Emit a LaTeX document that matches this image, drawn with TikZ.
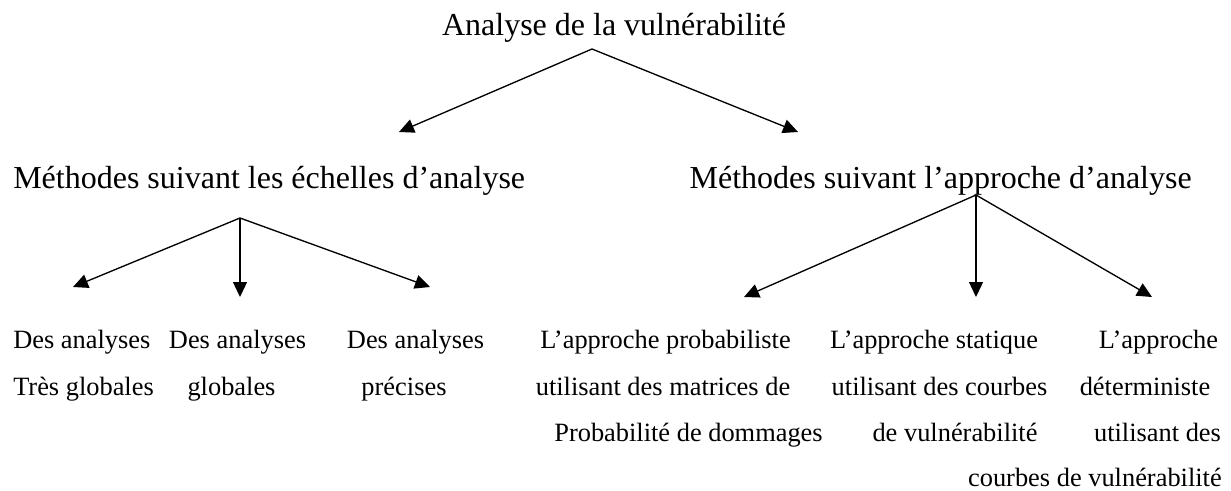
\documentclass[tikz,border=0pt]{standalone}
\usepackage{fontspec}
\setmainfont{Liberation Serif}
\usetikzlibrary{arrows.meta}
\begin{document}
\begin{tikzpicture}[x=0.75pt,y=-0.75pt,
  big/.style={font=\fontsize{24}{28}\selectfont, inner sep=0pt, anchor=base},
  small/.style={font=\fontsize{19.8}{24}\selectfont, inner sep=0pt, anchor=base},
  conn/.style={line width=1pt, -{Triangle[length=11.25pt,width=10.5pt]}}]
\useasboundingbox (0,0) rectangle (1231,490);
% level 0
\node[big] (root) at (614,35) {Analyse de la vulnérabilité};
% level 1
\node[big, anchor=base west] (echelles) at (13,188) {Méthodes suivant les échelles d’analyse};
\node[big, anchor=base east] (approche) at (1192,188) {Méthodes suivant l’approche d’analyse};
% level 2, left group
\node[small, anchor=base west] (c1a) at (13,348) {Des analyses};
\node[small, anchor=base west] (c1b) at (13,395) {Très globales};
\node[small] (c2a) at (237.5,348) {Des analyses};
\node[small] (c2b) at (231.5,395) {globales};
\node[small] (c3a) at (415.5,348) {Des analyses};
\node[small] (c3b) at (404,395) {précises};
% level 2, right group
\node[small] (c4a) at (665.5,348) {L’approche probabiliste};
\node[small] (c4b) at (663,395) {utilisant des matrices de};
\node[small] (c4c) at (688.5,441) {Probabilité de dommages};
\node[small] (c5a) at (934,348) {L’approche statique};
\node[small] (c5b) at (939.5,395) {utilisant des courbes};
\node[small] (c5c) at (955,441) {de vulnérabilité};
\node[small] (c6a) at (1158.5,348) {L’approche};
\node[small] (c6b) at (1145,395) {déterministe};
\node[small] (c6c) at (1157.5,441) {utilisant des};
\node[small, anchor=base east] (c6d) at (1222,486) {courbes de vulnérabilité};
% connector points
\coordinate (a0) at (592,49);
\coordinate (t01) at (399,132);
\coordinate (t02) at (798,132);
\coordinate (a1) at (240,218);
\coordinate (t11) at (73,287);
\coordinate (t12) at (240,297);
\coordinate (t13) at (430,287);
\coordinate (a2) at (976,195);
\coordinate (t21) at (744,297);
\coordinate (t22) at (976,297);
\coordinate (t23) at (1152,297);
% connectors
\draw[conn] (a0) -- (t01);
\draw[conn] (a0) -- (t02);
\draw[conn] (a1) -- (t11);
\draw[conn] (a1) -- (t12);
\draw[conn] (a1) -- (t13);
\draw[conn] (a2) -- (t21);
\draw[conn] (a2) -- (t22);
\draw[conn] (a2) -- (t23);
\end{tikzpicture}
\end{document}
